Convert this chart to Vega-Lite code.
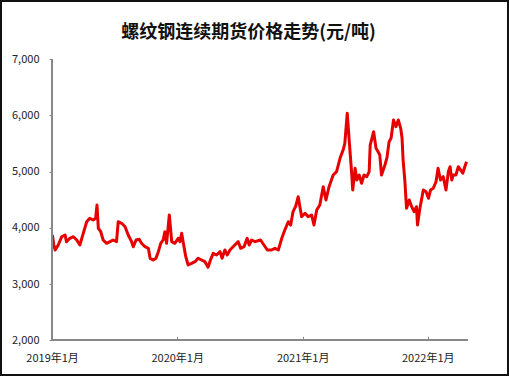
{
  "$schema": "https://vega.github.io/schema/vega-lite/v6.json",
  "width": 507,
  "height": 374,
  "padding": 1,
  "autosize": {"type": "none"},
  "background": "white",
  "config": {
    "view": {"stroke": "#111111", "strokeWidth": 2},
    "font": "Noto Sans CJK SC"
  },
  "title": {
    "text": "螺纹钢连续期货价格走势(元/吨)",
    "font": "Noto Sans CJK SC",
    "fontSize": 18,
    "fontWeight": "bold",
    "color": "#111111",
    "anchor": "middle",
    "frame": "group",
    "offset": -41,
    "dx": -6
  },
  "data": {
    "values": [
      {"date": "2019-01-02", "price": 3874},
      {"date": "2019-01-06", "price": 3700},
      {"date": "2019-01-10", "price": 3607},
      {"date": "2019-01-19", "price": 3696},
      {"date": "2019-01-29", "price": 3843},
      {"date": "2019-02-08", "price": 3874},
      {"date": "2019-02-12", "price": 3755},
      {"date": "2019-02-22", "price": 3815},
      {"date": "2019-03-04", "price": 3843},
      {"date": "2019-03-14", "price": 3785},
      {"date": "2019-03-23", "price": 3696},
      {"date": "2019-04-02", "price": 3904},
      {"date": "2019-04-12", "price": 4110},
      {"date": "2019-04-21", "price": 4170},
      {"date": "2019-05-01", "price": 4141},
      {"date": "2019-05-08", "price": 4170},
      {"date": "2019-05-12", "price": 4407},
      {"date": "2019-05-16", "price": 3993},
      {"date": "2019-05-23", "price": 3932},
      {"date": "2019-05-30", "price": 3785},
      {"date": "2019-06-09", "price": 3726},
      {"date": "2019-06-19", "price": 3755},
      {"date": "2019-06-28", "price": 3785},
      {"date": "2019-07-08", "price": 3755},
      {"date": "2019-07-13", "price": 4110},
      {"date": "2019-07-23", "price": 4082},
      {"date": "2019-08-02", "price": 4021},
      {"date": "2019-08-11", "price": 3874},
      {"date": "2019-08-21", "price": 3755},
      {"date": "2019-08-26", "price": 3665},
      {"date": "2019-09-03", "price": 3785},
      {"date": "2019-09-12", "price": 3797},
      {"date": "2019-09-19", "price": 3726},
      {"date": "2019-09-29", "price": 3665},
      {"date": "2019-10-09", "price": 3637},
      {"date": "2019-10-14", "price": 3459},
      {"date": "2019-10-23", "price": 3429},
      {"date": "2019-10-31", "price": 3459},
      {"date": "2019-11-07", "price": 3577},
      {"date": "2019-11-14", "price": 3726},
      {"date": "2019-11-21", "price": 3785},
      {"date": "2019-11-26", "price": 3932},
      {"date": "2019-12-01", "price": 3726},
      {"date": "2019-12-09", "price": 4230},
      {"date": "2019-12-16", "price": 3755},
      {"date": "2019-12-25", "price": 3726},
      {"date": "2020-01-04", "price": 3815},
      {"date": "2020-01-09", "price": 3755},
      {"date": "2020-01-14", "price": 3904},
      {"date": "2020-01-19", "price": 3726},
      {"date": "2020-01-26", "price": 3488},
      {"date": "2020-02-02", "price": 3340},
      {"date": "2020-02-12", "price": 3370},
      {"date": "2020-02-22", "price": 3399},
      {"date": "2020-03-02", "price": 3459},
      {"date": "2020-03-12", "price": 3429},
      {"date": "2020-03-22", "price": 3399},
      {"date": "2020-03-31", "price": 3299},
      {"date": "2020-04-07", "price": 3429},
      {"date": "2020-04-15", "price": 3548},
      {"date": "2020-04-25", "price": 3518},
      {"date": "2020-05-05", "price": 3577},
      {"date": "2020-05-11", "price": 3459},
      {"date": "2020-05-19", "price": 3607},
      {"date": "2020-05-26", "price": 3518},
      {"date": "2020-06-03", "price": 3607},
      {"date": "2020-06-12", "price": 3665},
      {"date": "2020-06-27", "price": 3755},
      {"date": "2020-07-04", "price": 3637},
      {"date": "2020-07-14", "price": 3665},
      {"date": "2020-07-23", "price": 3815},
      {"date": "2020-07-29", "price": 3696},
      {"date": "2020-08-05", "price": 3785},
      {"date": "2020-08-15", "price": 3755},
      {"date": "2020-08-24", "price": 3772},
      {"date": "2020-08-31", "price": 3785},
      {"date": "2020-09-10", "price": 3696},
      {"date": "2020-09-20", "price": 3607},
      {"date": "2020-10-02", "price": 3607},
      {"date": "2020-10-12", "price": 3637},
      {"date": "2020-10-22", "price": 3607},
      {"date": "2020-11-01", "price": 3815},
      {"date": "2020-11-10", "price": 3963},
      {"date": "2020-11-20", "price": 4110},
      {"date": "2020-11-27", "price": 4050},
      {"date": "2020-12-04", "price": 4290},
      {"date": "2020-12-12", "price": 4390},
      {"date": "2020-12-19", "price": 4555},
      {"date": "2020-12-29", "price": 4200},
      {"date": "2021-01-08", "price": 4260},
      {"date": "2021-01-17", "price": 4200},
      {"date": "2021-01-27", "price": 4230},
      {"date": "2021-02-03", "price": 4052},
      {"date": "2021-02-11", "price": 4318},
      {"date": "2021-02-20", "price": 4407},
      {"date": "2021-03-02", "price": 4733},
      {"date": "2021-03-10", "price": 4496},
      {"date": "2021-03-19", "price": 4733},
      {"date": "2021-03-31", "price": 4941},
      {"date": "2021-04-10", "price": 5000},
      {"date": "2021-04-20", "price": 5238},
      {"date": "2021-04-29", "price": 5386},
      {"date": "2021-05-04", "price": 5505},
      {"date": "2021-05-11", "price": 6039},
      {"date": "2021-05-17", "price": 5534},
      {"date": "2021-05-24", "price": 4972},
      {"date": "2021-05-27", "price": 4674},
      {"date": "2021-06-03", "price": 5060},
      {"date": "2021-06-08", "price": 4852},
      {"date": "2021-06-15", "price": 4941},
      {"date": "2021-06-22", "price": 4793},
      {"date": "2021-06-29", "price": 4941},
      {"date": "2021-07-07", "price": 4911},
      {"date": "2021-07-14", "price": 5000},
      {"date": "2021-07-17", "price": 5475},
      {"date": "2021-07-27", "price": 5712},
      {"date": "2021-08-03", "price": 5416},
      {"date": "2021-08-09", "price": 5356},
      {"date": "2021-08-14", "price": 5297},
      {"date": "2021-08-19", "price": 4941},
      {"date": "2021-08-29", "price": 5119},
      {"date": "2021-09-04", "price": 5250},
      {"date": "2021-09-10", "price": 5530},
      {"date": "2021-09-16", "price": 5600},
      {"date": "2021-09-23", "price": 5920},
      {"date": "2021-09-30", "price": 5801},
      {"date": "2021-10-07", "price": 5920},
      {"date": "2021-10-14", "price": 5772},
      {"date": "2021-10-18", "price": 5594},
      {"date": "2021-10-21", "price": 5208},
      {"date": "2021-10-26", "price": 4852},
      {"date": "2021-10-31", "price": 4349},
      {"date": "2021-11-08", "price": 4496},
      {"date": "2021-11-15", "price": 4377},
      {"date": "2021-11-22", "price": 4288},
      {"date": "2021-11-29", "price": 4377},
      {"date": "2021-12-02", "price": 4052},
      {"date": "2021-12-09", "price": 4349},
      {"date": "2021-12-19", "price": 4674},
      {"date": "2021-12-27", "price": 4644},
      {"date": "2022-01-03", "price": 4527},
      {"date": "2022-01-09", "price": 4674},
      {"date": "2022-01-17", "price": 4705},
      {"date": "2022-01-25", "price": 4822},
      {"date": "2022-01-31", "price": 5060},
      {"date": "2022-02-07", "price": 4852},
      {"date": "2022-02-15", "price": 4911},
      {"date": "2022-02-23", "price": 4674},
      {"date": "2022-03-02", "price": 5000},
      {"date": "2022-03-07", "price": 5089},
      {"date": "2022-03-12", "price": 4852},
      {"date": "2022-03-16", "price": 4941},
      {"date": "2022-03-24", "price": 4941},
      {"date": "2022-03-31", "price": 5089},
      {"date": "2022-04-07", "price": 5030},
      {"date": "2022-04-13", "price": 4972},
      {"date": "2022-04-19", "price": 5089},
      {"date": "2022-04-24", "price": 5178}
    ]
  },
  "layer": [
    {
      "mark": {"type": "line", "color": "#e60000", "strokeWidth": 3, "strokeJoin": "round"},
      "encoding": {
        "x": {
          "field": "date",
          "type": "temporal",
          "scale": {"domain": [{"year": 2018, "month": 8, "date": 5}, {"year": 2022, "month": 8, "date": 23}]},
          "axis": {
            "title": null,
            "domain": false,
            "grid": false,
            "offset": -34.7,
            "values": [
              {"year": 2019, "month": 1, "date": 1},
              {"year": 2020, "month": 1, "date": 1},
              {"year": 2021, "month": 1, "date": 1},
              {"year": 2022, "month": 1, "date": 1}
            ],
            "format": "%Y年%-m月",
            "labelFont": "Noto Sans CJK SC",
            "labelFontSize": 11,
            "labelColor": "#222222",
            "labelPadding": 16,
            "tickSize": -4,
            "tickColor": "#888888",
            "labelFlush": false,
            "labelOverlap": false
          }
        },
        "y": {
          "field": "price",
          "type": "quantitative",
          "scale": {"domain": [1383, 8037], "nice": false, "zero": false},
          "axis": {
            "title": null,
            "domain": false,
            "grid": false,
            "offset": -51,
            "values": [2000, 3000, 4000, 5000, 6000, 7000],
            "format": ",.0f",
            "labelFont": "Noto Sans CJK SC",
            "labelFontSize": 11,
            "labelColor": "#222222",
            "labelPadding": 10,
            "tickSize": 3,
            "tickColor": "#888888",
            "labelFlush": false,
            "labelOverlap": false
          }
        }
      }
    },
    {
      "mark": {"type": "rule", "color": "#888888", "strokeWidth": 1},
      "encoding": {
        "x": {"datum": {"year": 2019, "month": 1, "date": 1}, "type": "temporal"},
        "y": {"datum": 2000, "type": "quantitative"},
        "y2": {"datum": 7000}
      }
    },
    {
      "mark": {"type": "rule", "color": "#888888", "strokeWidth": 1},
      "encoding": {
        "x": {"datum": {"year": 2019, "month": 1, "date": 1}, "type": "temporal"},
        "x2": {"datum": {"year": 2022, "month": 4, "date": 26}},
        "y": {"datum": 2000, "type": "quantitative"}
      }
    }
  ]
}
